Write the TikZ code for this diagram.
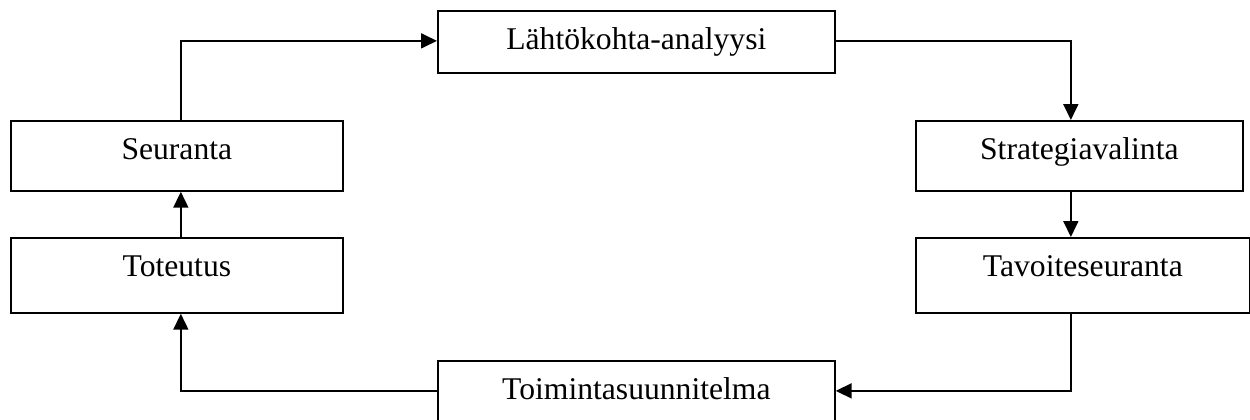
\documentclass[tikz,border=0pt]{standalone}
\usepackage{fontspec}
\setmainfont{Liberation Serif}
\usetikzlibrary{arrows.meta}
\tikzset{
	box/.style={draw, line width=1pt, inner sep=0pt, anchor=north west, text height=0.78cm},
}
\begin{document}
\begin{tikzpicture}[x=0.02cm, y=-0.02cm, >={Triangle[length=0.32cm,width=0.3cm]}, line width=1pt, font=\fontsize{18}{22}\selectfont]
	\useasboundingbox (0,0) rectangle (1250,419);
	% boxes
	\node[box, minimum width=7.94cm, text depth=0.46cm] (lahto) at (437,10) {Lähtökohta-analyysi};
	\node[box, minimum width=6.54cm, text depth=0.62cm] (strat) at (915,120) {Strategiavalinta};
	\node[box, minimum width=6.68cm, text depth=0.72cm] (tavo) at (915,237) {Tavoiteseuranta};
	\node[box, minimum width=7.94cm, text depth=0.82cm] (toim) at (437,360) {Toimintasuunnitelma};
	\node[box, minimum width=6.64cm, text depth=0.72cm] (tot) at (10,237) {Toteutus};
	\node[box, minimum width=6.64cm, text depth=0.62cm] (seur) at (10,120) {Seuranta};
	% connectors
	\draw[->] ([xshift=0.08cm]seur.north) |- ([yshift=0.02cm]lahto.west);
	\draw[->] ([yshift=0.02cm]lahto.east) -| ([xshift=-0.17cm]strat.north);
	\draw[->] ([xshift=-0.17cm]strat.south) -- ([xshift=-0.17cm]strat.south |- tavo.north);
	\draw[->] ([xshift=-0.24cm]tavo.south) |- ([yshift=0.2cm]toim.east);
	\draw[->] ([yshift=0.2cm]toim.west) -| ([xshift=0.08cm]tot.south);
	\draw[->] ([xshift=0.08cm]tot.north) -- ([xshift=0.08cm]seur.south);
\end{tikzpicture}
\end{document}
